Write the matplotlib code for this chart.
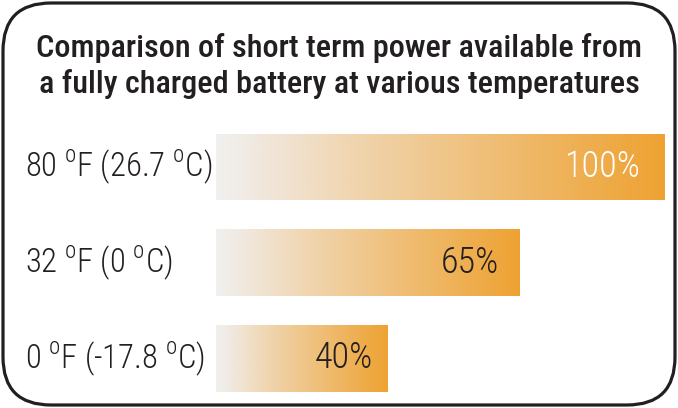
import numpy as np
import matplotlib
matplotlib.use('Agg')
import matplotlib.pyplot as plt
from matplotlib.patches import FancyBboxPatch
from matplotlib.colors import LinearSegmentedColormap
import matplotlib.transforms as mtransforms

categories = [r'80 $^\mathrm{o}$F (26.7 $^\mathrm{o}$C)',
              r'32 $^\mathrm{o}$F (0 $^\mathrm{o}$C)',
              r'0 $^\mathrm{o}$F (-17.8 $^\mathrm{o}$C)']
bar_length = [100, 67.5, 38.3]
pct_labels = ['100%', '65%', '40%']
pct_colors = ['white', '#231f20', '#231f20']
title_lines = ['Comparison of short term power available from',
               'a fully charged battery at various temperatures']

plt.rcParams['font.family'] = 'Roboto Condensed'
plt.rcParams['mathtext.fontset'] = 'custom'
plt.rcParams['mathtext.rm'] = 'Roboto Condensed:weight=300'

fig = plt.figure(figsize=(6.78, 4.08), dpi=100)

# rounded frame
frame = FancyBboxPatch((0.03, 0.03), 6.72, 4.02,
                       boxstyle='round,pad=0,rounding_size=0.48',
                       transform=fig.dpi_scale_trans, facecolor='none',
                       edgecolor='#231f20', linewidth=2.3, zorder=5)
fig.patches.append(frame)

for k, line in enumerate(title_lines):
    fig.text(0.5, 1 - (57 + 36 * k) / 408, line, ha='center', va='baseline',
             fontsize=23.2, fontweight=500, color='#231f20')

ax = fig.add_axes([216/678, 0.04, (665-216)/678, 0.6316])
h = 0.695
ax.set_axis_off()

cmap = LinearSegmentedColormap.from_list(
    'bat', [(0, '#f1f0ee'), (0.06, '#f0ebe5'), (0.33, '#f0d3aa'),
            (0.67, '#efba6c'), (1, '#eea232')])
grad = np.linspace(0, 1, 256).reshape(1, -1)
lab_tr = mtransforms.blended_transform_factory(fig.transFigure, ax.transData)
pad_px = [25, 20, 15]

for i, val in enumerate(bar_length):
    ax.imshow(grad, cmap=cmap, aspect='auto',
              extent=(0, val, i + h/2, i - h/2), interpolation='bilinear')
    tr = ax.transData + mtransforms.ScaledTranslation(-pad_px[i] / 100, 0, fig.dpi_scale_trans)
    ax.text(val, i, pct_labels[i], ha='right', va='center',
            fontsize=26, fontweight=300, color=pct_colors[i], transform=tr)
    ax.text(25/678, i, categories[i], ha='left', va='center', fontsize=23.5,
            fontweight=300, color='#231f20', transform=lab_tr)

ax.set_xlim(0, 100)
ax.set_ylim(2 + h/2, -h/2)

plt.savefig('out.png', dpi=100)
